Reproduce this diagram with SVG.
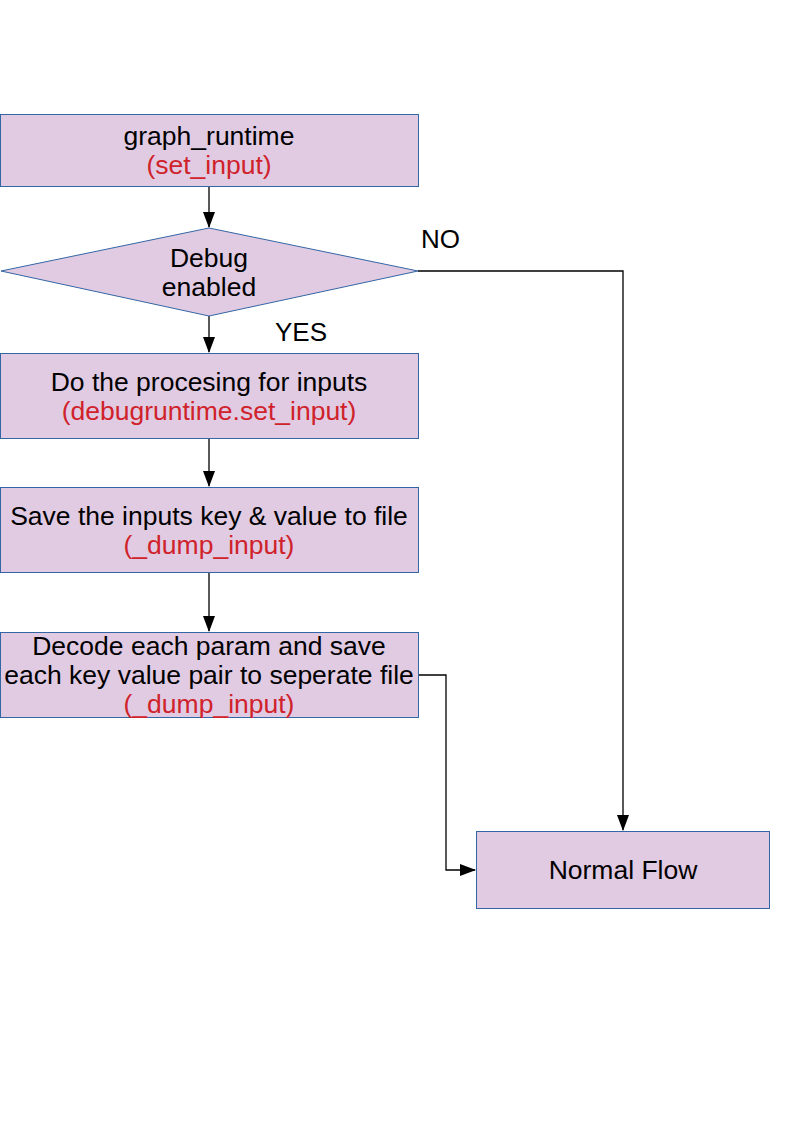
<svg xmlns="http://www.w3.org/2000/svg" width="794" height="1123" viewBox="0 0 794 1123">
<defs>
<style>
.n{fill:#e0cbe3;stroke:#3465a4;stroke-width:1}
.t{font-family:"Liberation Sans",Arial,sans-serif;font-size:26.5px;text-anchor:middle;fill:#000}
.r{fill:#d0222a}
.c{fill:none;stroke:#000;stroke-width:1.3}
.l{font-family:"Liberation Sans",Arial,sans-serif;font-size:26px;fill:#000}
</style>
<marker id="a" markerWidth="16" markerHeight="12" refX="15" refY="6" orient="auto" markerUnits="userSpaceOnUse">
<path d="M0,0 L16,6 L0,12 Z" fill="#000"/>
</marker>
</defs>
<rect width="794" height="1123" fill="#fff"/>
<g id="connectors">
<line class="c" x1="209" y1="186" x2="209" y2="227" marker-end="url(#a)"/>
<line class="c" x1="209" y1="316" x2="209" y2="352" marker-end="url(#a)"/>
<line class="c" x1="209" y1="438" x2="209" y2="486" marker-end="url(#a)"/>
<line class="c" x1="209" y1="572" x2="209" y2="631" marker-end="url(#a)"/>
<polyline class="c" points="418,271 623,271 623,830" marker-end="url(#a)"/>
<polyline class="c" points="418,675 446,675 446,870 475,870" marker-end="url(#a)"/>
<text class="l" x="421" y="248">NO</text>
<text class="l" x="275" y="341">YES</text>
</g>
<g id="n1">
<rect class="n" x="0.5" y="114.5" width="418" height="72"/>
<text class="t" x="209" y="145">graph_runtime</text>
<text class="t r" x="209" y="174">(set_input)</text>
</g>
<g id="n2">
<polygon class="n" points="209,228 418,271 209,316 1,271"/>
<text class="t" x="209" y="267">Debug</text>
<text class="t" x="209" y="296">enabled</text>
</g>
<g id="n3">
<rect class="n" x="0.5" y="353.5" width="418" height="85"/>
<text class="t" x="209" y="391">Do the procesing for inputs</text>
<text class="t r" x="209" y="420">(debugruntime.set_input)</text>
</g>
<g id="n4">
<rect class="n" x="0.5" y="487.5" width="418" height="85"/>
<text class="t" x="209" y="525">Save the inputs key &amp; value to file</text>
<text class="t r" x="209" y="554">(_dump_input)</text>
</g>
<g id="n5">
<rect class="n" x="0.5" y="632.5" width="418" height="85"/>
<text class="t" x="209" y="655">Decode each param and save</text>
<text class="t" x="209" y="684">each key value pair to seperate file</text>
<text class="t r" x="209" y="713">(_dump_input)</text>
</g>
<g id="n6">
<rect class="n" x="476.5" y="831.5" width="293" height="77"/>
<text class="t" x="623" y="879">Normal Flow</text>
</g>
</svg>
